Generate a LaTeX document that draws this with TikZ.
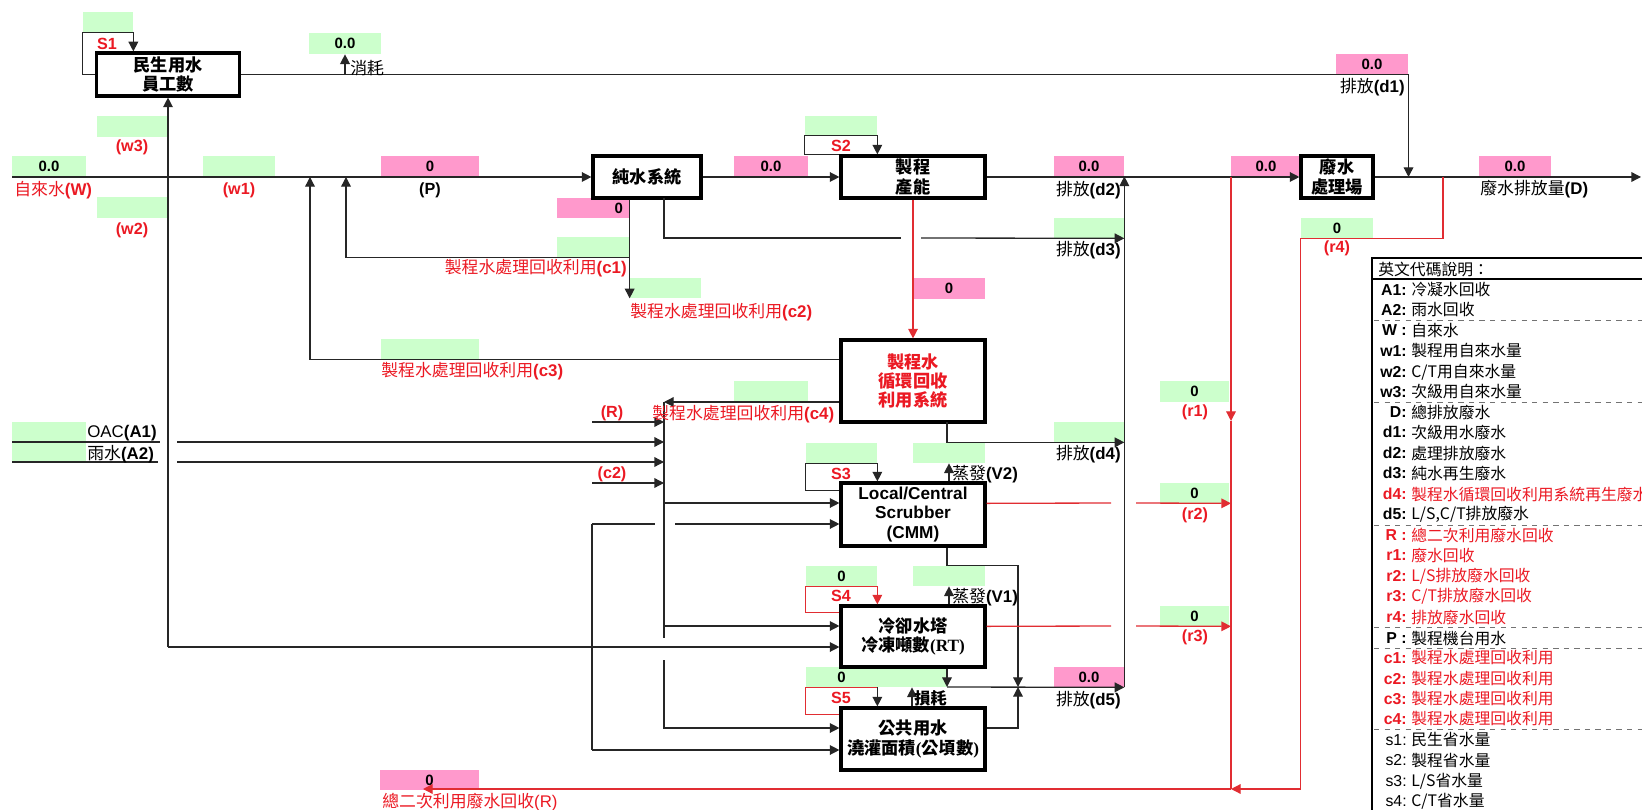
\documentclass[tikz,border=0pt]{standalone}
\usepackage{fontspec}
\setmainfont{Liberation Sans}
\newfontfamily\cjk{Noto Sans CJK TC}
\newfontfamily\rtfont{Liberation Serif}
\usetikzlibrary{arrows.meta,positioning}
\definecolor{valgreen}{RGB}{204,255,204}
\definecolor{valpink}{RGB}{255,153,204}
\definecolor{flowred}{RGB}{225,45,50}
\definecolor{lblred}{RGB}{235,25,35}
\newcommand\zh[1]{{\cjk #1}}
\tikzset{sz/.style 2 args={minimum width=#1*0.02cm, minimum height=#2*0.02cm}}

\begin{document}
\begin{tikzpicture}[x=0.02cm,y=-0.02cm,
  flow/.style={draw=black!85, line width=0.75pt},
  redflow/.style={draw=flowred, line width=0.75pt},
  arr/.style={-{Triangle[length=5.5pt,width=5.5pt]}},
  proc/.style={draw, line width=1.8pt, fill=white, align=center, inner sep=0pt, font=\bfseries\fontsize{9.8}{11}\selectfont},
  val/.style={inner sep=0pt, font=\bfseries\fontsize{8.5}{10}\selectfont},
  gval/.style={val, fill=valgreen},
  pval/.style={val, fill=valpink},
  lbl/.style={inner sep=0pt, font=\fontsize{9.6}{10}\selectfont},
  rlbl/.style={lbl, text=lblred},
  kbold/.style={lbl, font=\bfseries\fontsize{9.2}{10}\selectfont},
  rbold/.style={kbold, text=lblred},
  legtxt/.style={inner sep=0pt, font=\fontsize{9}{10}\selectfont}
]
\useasboundingbox (0,0) rectangle (1642,810);
\clip (0,0) rectangle (1642,810);

% value cells
\node[gval, sz={50}{20}] (gS1) at (108,22) {};
\node[gval, sz={72}{21}] (gCons) at (345,43.5) {0.0};
\node[gval, sz={70}{21}] (gW3) at (132,126.5) {};
\node[gval, sz={74}{20}] (gW) at (49,166) {0.0};
\node[gval, sz={70}{21}] (gW2) at (132,207.5) {};
\node[gval, sz={72}{20}] (gW1) at (239,166) {};
\node[pval, sz={98}{20}] (pP) at (430,166) {0};
\node[pval, sz={74}{20}] (pPure) at (771,166) {0.0};
\node[gval, sz={72}{19}] (gS2) at (841,125.5) {};
\node[pval, sz={70}{20}] (pD2) at (1089,166) {0.0};
\node[pval, sz={70}{20}] (pIn) at (1266,166) {0.0};
\node[pval, sz={72}{20}] (pD) at (1515,166) {0.0};
\node[pval, sz={72}{20}] (pD1) at (1372,64) {0.0};
\node[pval, sz={72}{20}, align=right, text width=60*0.02cm] (pC1) at (593,208) {0};
\node[gval, sz={72}{20}] (gC1) at (593,247) {};
\node[gval, sz={71}{20}] (gC2) at (665.5,288) {};
\node[pval, sz={72}{21}] (pRec) at (949,288.5) {0};
\node[gval, sz={98}{20}] (gC3) at (430,349) {};
\node[gval, sz={74}{20}] (gC4) at (771,391) {};
\node[gval, sz={70}{20}] (gD3) at (1089,228) {};
\node[gval, sz={70}{20}] (gD4) at (1089,432) {};
\node[gval, sz={71}{20}] (gS3) at (841.5,453) {};
\node[gval, sz={72}{20}] (gV2) at (949,453) {};
\node[gval, sz={71}{20}] (gS4) at (841.5,576) {0};
\node[gval, sz={72}{20}] (gV1) at (949,576) {};
\node[gval, sz={71}{20}] (gS5) at (841.5,677) {0};
\node[gval, sz={70}{20}] (gLoss) at (912,677) {};
\node[pval, sz={70}{20}] (pD5) at (1089,677) {0.0};
\node[gval, sz={69}{21}] (gR1) at (1194.5,391.5) {0};
\node[gval, sz={69}{20}] (gR2) at (1194.5,493) {0};
\node[gval, sz={69}{20}] (gR3) at (1194.5,616) {0};
\node[gval, sz={72}{20}] (gR4) at (1337,228) {0};
\node[gval, sz={74}{20}] (gA1) at (49,432) {};
\node[gval, sz={74}{20}] (gA2) at (49,452) {};
\node[pval, sz={99}{20}] (pR) at (429.5,780) {0};

% process boxes
\node[proc, sz={143.5}{43}] (civil) at (168,74.5) {\zh{民生用水}\\\zh{員工數}};
\node[proc, sz={108}{42}] (pure) at (647,177) {\zh{純水系統}};
\node[proc, sz={144}{42}] (fab) at (913,177) {\zh{製程}\\\zh{產能}};
\node[proc, sz={72}{42}] (wwtp) at (1337,177) {\zh{廢水}\\\zh{處理場}};
\node[proc, sz={144}{82}, text=lblred] (recyc) at (913,381) {\zh{製程水}\\\zh{循環回收}\\\zh{利用系統}};
\node[proc, sz={144}{63}] (scrub) at (913,514.5) {Local/Central\\Scrubber\\(CMM)};
\node[proc, sz={144}{61}] (tower) at (913,636.5) {\zh{冷卻水塔}\\\zh{冷凍噸數}{\rtfont(RT)}};
\node[proc, sz={144}{62}] (pub) at (913,739) {\zh{公共用水}\\\zh{澆灌面積}{\rtfont(}\zh{公頃數}{\rtfont)}};

% junctions
\coordinate (wIn) at (12,177);
\coordinate (wOut) at (1641,177);
\coordinate (wTurn) at (168,647);
\coordinate (c3Up) at (310,177);
\coordinate (c1Up) at (346,177);
\coordinate (d3Src) at (664,198);
\coordinate (d3GapL) at (901,238);
\coordinate (d3GapR) at (921,238);
\coordinate (d4Src) at (947,422);
\coordinate (d1Pt) at (1408.5,177);
\coordinate (colTop) at (664,402);
\coordinate (colScr) at (664,503);
\coordinate (colTwr) at (664,626);
\coordinate (colGapA) at (664,638);
\coordinate (colGapB) at (664,660);
\coordinate (colPub) at (664,728);
\coordinate (inR) at (592,422);
\coordinate (inC2) at (592,483);
\coordinate (twoTop) at (592,524);
\coordinate (twoBot) at (592,750);
\coordinate (sGapL) at (655,524);
\coordinate (sGapR) at (675,524);
\coordinate (a1L) at (12,442);
\coordinate (a1M) at (160,442);
\coordinate (a1N) at (177,442);
\coordinate (a2L) at (12,462);
\coordinate (a2M) at (158,462);
\coordinate (a2N) at (177,462);
\coordinate (mixPt) at (1018,687);
\coordinate (d5Pt) at (947,687);
\coordinate (r1Top) at (1231,177);
\coordinate (r1Mid) at (1231,421);
\coordinate (r1Bot) at (1231,789);
\coordinate (rEnd) at (423,789);
\coordinate (r4Top) at (1443,177);
\coordinate (r2GapL) at (1111,503);
\coordinate (r2GapR) at (1136,503);
\coordinate (r3GapL) at (1111,626);
\coordinate (r3GapR) at (1136,626);

% main water line
\draw[flow,arr] (wIn) -- (pure.west);
\draw[flow,arr] (pure.east) -- (fab.west);
\draw[flow,arr] (fab.east) -- (wwtp.west);
\draw[flow,arr] (wwtp.east) -- (wOut);
\draw[flow,arr] (wTurn) -- (civil.south);
\draw[flow,arr] (wTurn) -- (tower.west |- wTurn);
\draw[flow,arr] (civil.east) -| (d1Pt);
\draw[flow,arr] (gCons.south |- civil.east) -- (gCons.south);

% saving loops
\draw[flow,arr] (civil.west) -| (gS1.south west) -| (civil.north -| gS1.south east);
\draw[flow,arr] (fab.north west) -| (gS2.south west) -| (fab.north -| gS2.south east);
\draw[flow,arr] (scrub.north west) ++(0,9) -| (gS3.south west) -| (scrub.north -| gS3.south east);
\draw[redflow,arr] (tower.north west) ++(0,8) -| (gS4.south west) -| (tower.north -| gS4.south east);
\draw[redflow] (pub.north west) ++(0,8) -| (gS5.south west) -- (gS5.south east);
\draw[flow,arr] (gS5.south east) -- (pub.north -| gS5.south east);

% recycling back to main line
\draw[flow,arr] (pure.south -| gC2.south west) -- (gC2.south west);
\draw[flow,arr] (gC1.south east) -| (c1Up);
\draw[flow,arr] (recyc.west |- gC3.south) -| (c3Up);
\draw[flow,arr] (recyc.west |- colTop) -- (colTop);
\draw[flow] (d3Src) |- (d3GapL);
\draw[flow,arr] (d3GapR) -- (gD3.south east);
\draw[flow,arr] (d4Src) |- (gD4.south east);

% collector
\draw[flow] (colTop) -- (colGapA);
\draw[flow,arr] (colGapB) |- (pub.west |- colPub);
\draw[flow,arr] (colScr) -- (scrub.west |- colScr);
\draw[flow,arr] (colTwr) -- (tower.west |- colTwr);
\draw[flow,arr] (inR) -- (colTop |- inR);
\draw[flow,arr] (inC2) -- (colTop |- inC2);
\draw[flow] (a1L) -- (a1M);
\draw[flow,arr] (a1N) -- (colTop |- a1N);
\draw[flow] (a2L) -- (a2M);
\draw[flow,arr] (a2N) -- (colTop |- a2N);
\draw[flow] (twoTop) -- (twoBot);
\draw[flow] (twoTop) -- (sGapL);
\draw[flow,arr] (sGapR) -- (scrub.west |- sGapR);
\draw[flow,arr] (twoBot) -- (pub.west |- twoBot);

% evaporation, loss, discharge
\draw[flow,arr] (scrub.north -| gV2.south) -- (gV2.south);
\draw[flow,arr] (tower.north -| gV1.south) -- (gV1.south);
\draw[flow,arr] (pub.north -| gLoss.south) -- (gLoss.south);
\draw[flow,arr] (scrub.south -| d5Pt) -- ++(0,18) -| (mixPt);
\draw[flow,arr] (pub.east |- colPub) -| (mixPt);
\draw[flow,arr] (tower.south -| d5Pt) -- (d5Pt);
\draw[flow,arr] (d5Pt) -- (pD5.south east);
\draw[flow,arr] (pD5.south east) -- (pD2.south east);

% waste water recovery
\draw[redflow,arr] (fab.south) -- (recyc.north);
\draw[redflow] (scrub.east |- gR2.south) -- (r2GapL);
\draw[redflow,arr] (r2GapR) -- (r1Top |- gR2.south);
\draw[redflow] (tower.east |- gR3.south) -- (r3GapL);
\draw[redflow,arr] (r3GapR) -- (r1Top |- gR3.south);
\draw[redflow,arr] (r1Top) -- (r1Mid);
\draw[redflow] (r1Mid) -- (r1Bot);
\draw[redflow,arr] (r1Bot) -- (rEnd);
\draw[redflow,arr] (r4Top) |- (gR4.south west) -- (gR4.south west |- r1Bot) -- (r1Bot);

% labels
\node[rbold] (tS1) at (107,44) {S1};
\node[rbold] (tS2) at (841,146) {S2};
\node[rbold] (tS3) at (841,474) {S3};
\node[rbold] (tS4) at (841,596) {S4};
\node[rbold] (tS5) at (841,698) {S5};
\node[lbl, anchor=west] (tCons) at (350,68) {\zh{消耗}};
\node[rbold] (tW3) at (132,147) {(w3)};
\node[rbold] (tW2) at (132,230) {(w2)};
\node[rbold] (tW1) at (239,190) {(w1)};
\node[rlbl, anchor=west] (tW) at (14,190) {\zh{自來水}\textbf{(W)}};
\node[kbold] (tP) at (430,190) {(P)};
\node[lbl, anchor=east] (tD1) at (1405,87) {\zh{排放}\textbf{(d1)}};
\node[lbl, anchor=east] (tD2) at (1121,190) {\zh{排放}\textbf{(d2)}};
\node[lbl, anchor=east] (tD3) at (1121,250) {\zh{排放}\textbf{(d3)}};
\node[lbl, anchor=east] (tD4) at (1121,454) {\zh{排放}\textbf{(d4)}};
\node[lbl, anchor=east] (tD5) at (1121,700) {\zh{排放}\textbf{(d5)}};
\node[lbl, anchor=west] (tD) at (1480,189) {\zh{廢水排放量}\textbf{(D)}};
\node[rbold] (tR4) at (1337,248) {(r4)};
\node[rbold] (tR1) at (1195,412) {(r1)};
\node[rbold] (tR2) at (1195,515) {(r2)};
\node[rbold] (tR3) at (1195,637) {(r3)};
\node[rlbl, anchor=east] (tC1) at (627,268) {\zh{製程水處理回收利用}\textbf{(c1)}};
\node[rlbl, anchor=west] (tC2) at (630,312) {\zh{製程水處理回收利用}\textbf{(c2)}};
\node[rlbl, anchor=west] (tC3) at (381,371) {\zh{製程水處理回收利用}\textbf{(c3)}};
\node[rlbl, anchor=west] (tC4) at (652,414) {\zh{製程水處理回收利用}\textbf{(c4)}};
\node[rbold] (tRin) at (612,413) {(R)};
\node[rbold] (tC2in) at (612,474) {(c2)};
\node[lbl, anchor=west] (tV2) at (952,474) {\zh{蒸發}\textbf{(V2)}};
\node[lbl, anchor=west] (tV1) at (952,597) {\zh{蒸發}\textbf{(V1)}};
\node[kbold, anchor=west] (tLoss) at (914,698) {\zh{損耗}};
\node[lbl, anchor=west] (tA1) at (87,433) {OAC\textbf{(A1)}};
\node[lbl, anchor=west] (tA2) at (87,454) {\zh{雨水}\textbf{(A2)}};
\node[rlbl, anchor=west] (tRtot) at (382,802) {\zh{總二次利用廢水回收}(R)};

% legend
\draw[line width=1.5pt] (1372,258) rectangle (1660,830);
\draw[line width=1.5pt] (1372,279) -- (1660,279);
\foreach \yy in {320,402,525,627,648,729}
  \draw[dashed, black!55] (1374,\yy) -- (1660,\yy);
\node[legtxt, anchor=west] (legHead) at (1378,269) {\zh{英文代碼說明：}};
\foreach \yy/\cc/\code/\desc in {
  290/black/{\textbf{A1:}}/{冷凝水回收},
  310/black/{\textbf{A2:}}/{雨水回收},
  330/black/{\textbf{W :}}/{自來水},
  351/black/{\textbf{w1:}}/{製程用自來水量},
  372/black/{\textbf{w2:}}/{C/T用自來水量},
  392/black/{\textbf{w3:}}/{次級用自來水量},
  412/black/{\textbf{D:}}/{總排放廢水},
  432/black/{\textbf{d1:}}/{次級用水廢水},
  453/black/{\textbf{d2:}}/{處理排放廢水},
  473/black/{\textbf{d3:}}/{純水再生廢水},
  494/lblred/{\textbf{d4:}}/{製程水循環回收利用系統再生廢水},
  514/black/{\textbf{d5:}}/{L/S,C/T排放廢水},
  535/lblred/{\textbf{R :}}/{總二次利用廢水回收},
  555/lblred/{\textbf{r1:}}/{廢水回收},
  576/lblred/{\textbf{r2:}}/{L/S排放廢水回收},
  596/lblred/{\textbf{r3:}}/{C/T排放廢水回收},
  617/lblred/{\textbf{r4:}}/{排放廢水回收},
  638/black/{\textbf{P :}}/{製程機台用水},
  658/lblred/{\textbf{c1:}}/{製程水處理回收利用},
  679/lblred/{\textbf{c2:}}/{製程水處理回收利用},
  699/lblred/{\textbf{c3:}}/{製程水處理回收利用},
  719/lblred/{\textbf{c4:}}/{製程水處理回收利用},
  740/black/{s1:}/{民生省水量},
  760/black/{s2:}/{製程省水量},
  781/black/{s3:}/{L/S省水量},
  801/black/{s4:}/{C/T省水量}}{
  \node[legtxt, anchor=east, text=\cc] (legKey\yy) at (1407,\yy) {\code};
  \node[legtxt, anchor=west, text=\cc] (legTxt\yy) at (1411,\yy) {\zh{\desc}};
}
\end{tikzpicture}
\end{document}
